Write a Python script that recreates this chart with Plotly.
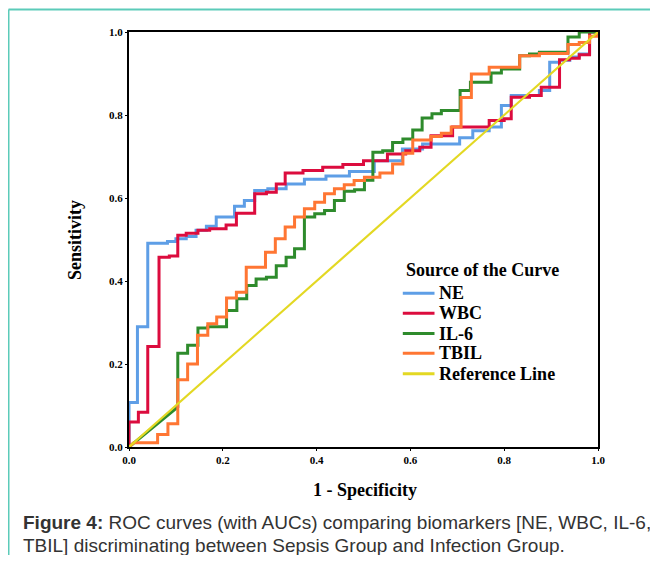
import plotly.graph_objects as go

# ROC curve vertices (1 - Specificity, Sensitivity)
ne_fpr = [0, 0, 0.018, 0.018, 0.04, 0.04, 0.082, 0.082, 0.10, 0.10, 0.122, 0.122, 0.143, 0.143,
          0.165, 0.165, 0.186, 0.186, 0.225, 0.225, 0.246, 0.246, 0.268, 0.268, 0.296, 0.296,
          0.335, 0.335, 0.374, 0.374, 0.42, 0.42, 0.47, 0.47, 0.523, 0.523, 0.583, 0.583,
          0.626, 0.626, 0.705, 0.705, 0.733, 0.733, 0.768, 0.768, 0.794, 0.794, 0.815, 0.815,
          0.875, 0.875, 0.897, 0.897, 0.918, 0.918, 0.94, 0.94, 0.96, 0.96, 0.982, 0.982, 1]
ne_tpr = [0, 0.107, 0.107, 0.29, 0.29, 0.491, 0.491, 0.495, 0.495, 0.502, 0.502, 0.507, 0.507, 0.522,
          0.522, 0.532, 0.532, 0.554, 0.554, 0.58, 0.58, 0.594, 0.594, 0.618, 0.618, 0.622,
          0.622, 0.634, 0.634, 0.645, 0.645, 0.653, 0.653, 0.664, 0.664, 0.69, 0.69, 0.718,
          0.718, 0.73, 0.73, 0.745, 0.745, 0.762, 0.762, 0.771, 0.771, 0.823, 0.823, 0.847,
          0.847, 0.859, 0.859, 0.927, 0.927, 0.932, 0.932, 0.94, 0.94, 0.947, 0.947, 1.0, 1.0]

wbc_fpr = [0, 0, 0.02, 0.02, 0.04, 0.04, 0.064, 0.064, 0.086, 0.086, 0.104, 0.104, 0.122, 0.122,
           0.147, 0.147, 0.172, 0.172, 0.207, 0.207, 0.229, 0.229, 0.268, 0.268, 0.293, 0.293,
           0.314, 0.314, 0.333, 0.333, 0.371, 0.371, 0.413, 0.413, 0.456, 0.456, 0.5, 0.5,
           0.551, 0.551, 0.59, 0.59, 0.62, 0.62, 0.644, 0.644, 0.69, 0.69, 0.768, 0.768,
           0.8, 0.8, 0.815, 0.815, 0.854, 0.854, 0.879, 0.879, 0.918, 0.918, 0.939, 0.939,
           0.96, 0.96, 0.982, 0.982, 1]
wbc_tpr = [0, 0.06, 0.06, 0.084, 0.084, 0.242, 0.242, 0.457, 0.457, 0.46, 0.46, 0.51, 0.51, 0.515,
           0.515, 0.522, 0.522, 0.526, 0.526, 0.535, 0.535, 0.563, 0.563, 0.61, 0.61, 0.614,
           0.614, 0.634, 0.634, 0.66, 0.66, 0.666, 0.666, 0.674, 0.674, 0.681, 0.681, 0.69,
           0.69, 0.706, 0.706, 0.714, 0.714, 0.722, 0.722, 0.75, 0.75, 0.771, 0.771, 0.787,
           0.787, 0.791, 0.791, 0.843, 0.843, 0.847, 0.847, 0.867, 0.867, 0.933, 0.933, 0.937,
           0.937, 0.945, 0.945, 1.0, 1.0]

il6_fpr = [0, 0.104, 0.104, 0.125, 0.125, 0.147, 0.147, 0.168, 0.168, 0.208, 0.208, 0.23, 0.23,
           0.251, 0.251, 0.271, 0.271, 0.293, 0.293, 0.314, 0.314, 0.335, 0.335, 0.353, 0.353,
           0.374, 0.374, 0.396, 0.396, 0.417, 0.417, 0.438, 0.438, 0.459, 0.459, 0.481, 0.481,
           0.502, 0.502, 0.52, 0.52, 0.541, 0.541, 0.562, 0.562, 0.584, 0.584, 0.605, 0.605,
           0.625, 0.625, 0.646, 0.646, 0.666, 0.666, 0.706, 0.706, 0.728, 0.728, 0.772, 0.772,
           0.794, 0.794, 0.833, 0.833, 0.854, 0.854, 0.875, 0.875, 0.936, 0.936, 0.96, 0.96, 1]
il6_tpr = [0, 0.096, 0.226, 0.226, 0.245, 0.245, 0.287, 0.287, 0.29, 0.29, 0.329, 0.329, 0.357,
           0.357, 0.389, 0.389, 0.405, 0.405, 0.409, 0.409, 0.437, 0.437, 0.457, 0.457, 0.478,
           0.478, 0.554, 0.554, 0.562, 0.562, 0.57, 0.57, 0.594, 0.594, 0.616, 0.616, 0.62,
           0.62, 0.643, 0.643, 0.71, 0.71, 0.714, 0.714, 0.734, 0.734, 0.742, 0.742, 0.764,
           0.764, 0.793, 0.793, 0.803, 0.803, 0.811, 0.811, 0.859, 0.859, 0.879, 0.879, 0.901,
           0.901, 0.911, 0.911, 0.943, 0.943, 0.947, 0.947, 0.951, 0.951, 0.988, 0.988, 1.0, 1.0]

tbil_fpr = [0, 0.01, 0.061, 0.061, 0.083, 0.083, 0.104, 0.104, 0.125, 0.125, 0.146, 0.146, 0.168,
            0.168, 0.187, 0.187, 0.208, 0.208, 0.229, 0.229, 0.25, 0.25, 0.291, 0.291, 0.312,
            0.312, 0.333, 0.333, 0.353, 0.353, 0.374, 0.374, 0.396, 0.396, 0.417, 0.417, 0.438,
            0.438, 0.459, 0.459, 0.48, 0.48, 0.502, 0.502, 0.535, 0.535, 0.562, 0.562, 0.584,
            0.584, 0.605, 0.605, 0.644, 0.644, 0.666, 0.666, 0.687, 0.687, 0.708, 0.708, 0.73,
            0.73, 0.768, 0.768, 0.833, 0.833, 0.875, 0.875, 0.936, 0.936, 0.96, 0.96, 0.982,
            0.982, 1, 1]
tbil_tpr = [0, 0.01, 0.01, 0.03, 0.03, 0.056, 0.056, 0.162, 0.162, 0.2, 0.2, 0.269, 0.269, 0.297,
            0.297, 0.313, 0.313, 0.359, 0.359, 0.373, 0.373, 0.433, 0.433, 0.469, 0.469, 0.502,
            0.502, 0.53, 0.53, 0.554, 0.554, 0.574, 0.574, 0.59, 0.59, 0.61, 0.61, 0.622, 0.622,
            0.632, 0.632, 0.642, 0.642, 0.65, 0.65, 0.66, 0.66, 0.682, 0.682, 0.708, 0.708,
            0.74, 0.74, 0.748, 0.748, 0.756, 0.756, 0.771, 0.771, 0.842, 0.842, 0.899, 0.899,
            0.915, 0.915, 0.943, 0.943, 0.948, 0.948, 0.97, 0.97, 0.975, 0.975, 0.99, 0.99, 1.0]

ref_x = [0, 1]
ref_y = [0, 1]

tick_vals = [0.0, 0.2, 0.4, 0.6, 0.8, 1.0]
tick_text = ["0.0", "0.2", "0.4", "0.6", "0.8", "1.0"]

series_names = ["NE", "WBC", "IL-6", "TBIL", "Reference Line"]
series_x = [ne_fpr, wbc_fpr, il6_fpr, tbil_fpr, ref_x]
series_y = [ne_tpr, wbc_tpr, il6_tpr, tbil_tpr, ref_y]
series_colors = ["#5e9ee6", "#dc0c3e", "#2e8b2c", "#ff7633", "#e3d823"]

SERIF = "Liberation Serif, Times New Roman, serif"
CAP = "Liberation Sans, Arial, sans-serif"

# page-pixel helpers (the page body has an 8px margin; plot area spans page x 129.5..598.5, y 31.5..446.5)
PX0, PX1, PY0, PY1 = 129.5, 598.5, 446.5, 31.5
def px(x):
    return (x - PX0) / (PX1 - PX0)
def py(y):
    return (PY0 - y) / (PY0 - PY1)

fig = go.Figure()
for name, xs, ys, col in zip(series_names, series_x, series_y, series_colors):
    fig.add_trace(go.Scatter(
        x=xs, y=ys, mode="lines", name=name, showlegend=False,
        line=dict(color=col, width=3 if name != "Reference Line" else 2.2),
    ))

fig.update_layout(
    width=642, height=547,
    margin=dict(l=121, r=52, t=24, b=108),
    paper_bgcolor="white", plot_bgcolor="white",
    showlegend=False,
    xaxis=dict(
        range=[0, 1], tickvals=tick_vals, ticktext=["<b>%s</b>" % t for t in tick_text],
        showgrid=False, zeroline=False, showline=True, mirror=True,
        linecolor="black", linewidth=2, ticks="outside", ticklen=2, tickcolor="black",
        tickfont=dict(family=SERIF, size=11, color="black"),
        fixedrange=True,
    ),
    yaxis=dict(
        range=[0, 1], tickvals=tick_vals, ticktext=["<b>%s</b>" % t for t in tick_text],
        showgrid=False, zeroline=False, showline=True, mirror=True,
        linecolor="black", linewidth=2, ticks="outside", ticklen=2, tickcolor="black",
        tickfont=dict(family=SERIF, size=11, color="black"),
        fixedrange=True,
    ),
)

# legend drawn inside the plot (SPSS style)
fig.add_annotation(text="<b>Source of the Curve</b>", x=px(404), y=py(269), xref="paper", yref="paper",
                   xanchor="left", yanchor="middle", showarrow=False,
                   font=dict(family=SERIF, size=18, color="black"))
legend_rows = [292.7, 312.7, 333.0, 352.7, 373.3]
for name, col, ry in zip(series_names, series_colors, legend_rows):
    fig.add_shape(type="line", xref="paper", yref="paper", x0=px(403.3), x1=px(435), y0=py(ry), y1=py(ry),
                  line=dict(color=col, width=3))
    fig.add_annotation(text="<b>%s</b>" % name, x=px(437), y=py(ry), xref="paper", yref="paper",
                       xanchor="left", yanchor="middle", showarrow=False,
                       font=dict(family=SERIF, size=18, color="black"))

# axis titles
fig.add_annotation(text="<b>1 - Specificity</b>", x=px(365), y=py(489), xref="paper", yref="paper",
                   xanchor="center", yanchor="middle", showarrow=False,
                   font=dict(family=SERIF, size=18, color="black"))
fig.add_annotation(text="<b>Sensitivity</b>", x=px(75), y=py(240), xref="paper", yref="paper",
                   xanchor="center", yanchor="middle", showarrow=False, textangle=-90,
                   font=dict(family=SERIF, size=18, color="black"))

# caption
fig.add_annotation(text="<b>Figure 4:</b> ROC curves (with AUCs) comparing biomarkers [NE, WBC, IL-6,",
                   x=px(21), y=py(522), xref="paper", yref="paper", xanchor="left", yanchor="middle",
                   showarrow=False, font=dict(family=CAP, size=19, color="#333333"))
fig.add_annotation(text="TBIL] discriminating between Sepsis Group and Infection Group.",
                   x=px(21), y=py(545), xref="paper", yref="paper", xanchor="left", yanchor="middle",
                   showarrow=False, font=dict(family=CAP, size=19, color="#333333"))

# card border (top and left teal lines)
fig.add_shape(type="line", xref="paper", yref="paper", x0=px(9), x1=px(700), y0=py(9), y1=py(9),
              line=dict(color="#5ccbb9", width=2))
fig.add_shape(type="line", xref="paper", yref="paper", x0=px(9), x1=px(9), y0=py(9), y1=py(600),
              line=dict(color="#5ccbb9", width=2))

fig.write_html("out.html")
